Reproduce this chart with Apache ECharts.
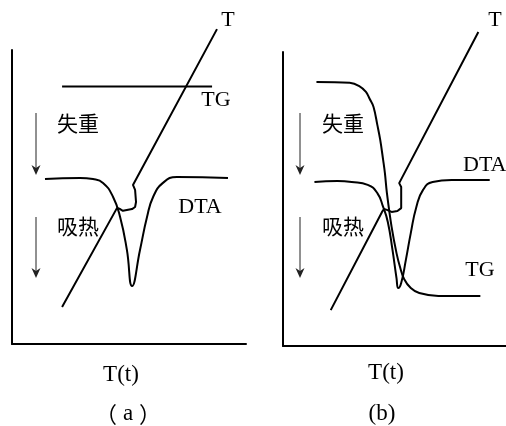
<!DOCTYPE html>
<html>
<head>
<meta charset="utf-8">
<script src="https://cdn.jsdelivr.net/npm/echarts@6/dist/echarts.min.js"></script>
<style>
  html, body { margin: 0; padding: 0; background: #fff; }
  #chart { width: 506px; height: 426px; }
</style>
</head>
<body>
<div id="chart"></div>
<script>
// Panel (a): constant-mass sample, DTA endotherm only
const dtaA = [[14.1,56.1],[29.1,56.5],[34.6,56.1],[38.9,54.8],[43.2,50.0],[46.2,43.2],[49.1,32.0],[51.3,19.7],[54.7,32.0],[57.7,43.2],[60.3,50.0],[64.5,54.8],[70.5,56.8],[92.3,56.5]];
const tgA = [[21.4,87.6],[85.5,87.6]];
const tempA = [[21.4,12.6],[44.9,46.3],[45.3,46.6],[46.2,45.9],[47.4,45.3],[51.3,45.9],[52.6,46.6],[53.0,48.3],[52.6,52.4],[51.7,54.1],[87.6,107.1]];

// Panel (b): mass loss coinciding with the endotherm
const dtaB = [[14.1,55.8],[24.4,56.1],[30.8,55.8],[38.0,54.8],[42.3,52.0],[44.9,47.3],[47.0,42.2],[49.1,32.7],[50.9,23.1],[51.7,19.7],[53.0,21.4],[55.1,29.3],[57.3,38.4],[59.8,47.3],[62.8,53.1],[67.1,55.8],[75.6,56.5],[92.7,56.5]];
const tgB = [[15.0,89.8],[29.9,89.5],[34.2,88.4],[37.2,86.4],[38.9,84.0],[40.6,81.3],[42.3,75.2],[43.6,70.1],[44.9,63.3],[45.7,58.8],[46.6,52.0],[48.7,40.5],[50.9,31.6],[52.6,26.5],[54.3,22.8],[57.3,19.7],[61.1,18.0],[69.7,17.0],[88.5,17.0]];
const tempB = [[21.4,12.2],[44.4,45.6],[45.3,46.6],[46.6,46.3],[48.7,45.6],[51.3,45.9],[53.0,46.9],[53.0,54.1],[52.1,55.4],[87.6,106.8]];

const axisLabels = ['T(t)', 'T(t)'];
const panelLetters = ['a', 'b'];
const sideLabels = ['失重', '吸热'];

const SERIF = '"Times New Roman", "Liberation Serif", serif';
const CJK = '"Noto Sans CJK SC", sans-serif';

const chart = echarts.init(document.getElementById('chart'), null, { renderer: 'canvas' });

function axisFor(idx) {
  return {
    type: 'value', min: 0, max: 100, gridIndex: idx,
    splitLine: { show: false }, axisTick: { show: false }, axisLabel: { show: false },
    axisLine: { show: true, onZero: false, lineStyle: { color: '#000', width: 2 } }
  };
}

function curve(name, data, xi, smooth) {
  return {
    name, type: 'line', data, xAxisIndex: xi, yAxisIndex: xi,
    smooth: smooth, symbol: 'none', clip: false,
    lineStyle: { color: '#000', width: 2 }
  };
}

function txt(x, y, s, size, family, align) {
  return {
    type: 'text', x, y,
    style: { text: s, fill: '#000', font: size + 'px ' + family, textAlign: align || 'center', textVerticalAlign: 'middle' }
  };
}

function arrow(x, y1, y2) {
  return {
    type: 'group', children: [
      { type: 'line', shape: { x1: x, y1: y1, x2: x, y2: y2 - 4 }, style: { stroke: '#222', lineWidth: 1 } },
      { type: 'polygon', shape: { points: [[x, y2], [x - 4.5, y2 - 10], [x, y2 - 7], [x + 4.5, y2 - 10]] }, style: { fill: '#222' } }
    ]
  };
}

const option = {
  animation: false,
  backgroundColor: '#fff',
  grid: [
    { left: 12, top: 50, width: 234, height: 294 },
    { left: 283, top: 52, width: 234, height: 294 }
  ],
  xAxis: [axisFor(0), axisFor(1)],
  yAxis: [axisFor(0), axisFor(1)],
  series: [
    curve('TG', tgA, 0, false),
    curve('DTA', dtaA, 0, 0.5),
    curve('T', tempA, 0, false),
    curve('TG', tgB, 1, 0.4),
    curve('DTA', dtaB, 1, 0.5),
    curve('T', tempB, 1, false)
  ],
  graphic: [
    // panel (a)
    txt(228, 20, 'T', 22, SERIF),
    txt(216, 100, 'TG', 22, SERIF),
    txt(200, 207, 'DTA', 22, SERIF),
    txt(78, 123, sideLabels[0], 21, CJK),
    txt(78, 226, sideLabels[1], 21, CJK),
    txt(121, 375, axisLabels[0], 23, SERIF),
    {
      type: 'text', x: 128, y: 414,
      style: {
        text: '{p|（}{l|' + panelLetters[0] + '}{p|）}',
        textAlign: 'center', textVerticalAlign: 'middle',
        rich: {
          p: { font: '22px ' + CJK, fill: '#000' },
          l: { font: '23px ' + SERIF, fill: '#000', padding: [0, 6, 0, 6] }
        }
      }
    },
    arrow(36, 113, 175),
    arrow(36, 217, 278),
    // panel (b)
    txt(495, 20, 'T', 22, SERIF),
    txt(463, 165, 'DTA', 22, SERIF, 'left'),
    txt(480, 270, 'TG', 22, SERIF),
    txt(343, 123, sideLabels[0], 21, CJK),
    txt(343, 226, sideLabels[1], 21, CJK),
    txt(386, 373, axisLabels[1], 23, SERIF),
    txt(382, 414, '(' + panelLetters[1] + ')', 23, SERIF),
    arrow(300, 113, 175),
    arrow(300, 217, 278)
  ]
};

chart.setOption(option);
</script>
</body>
</html>
